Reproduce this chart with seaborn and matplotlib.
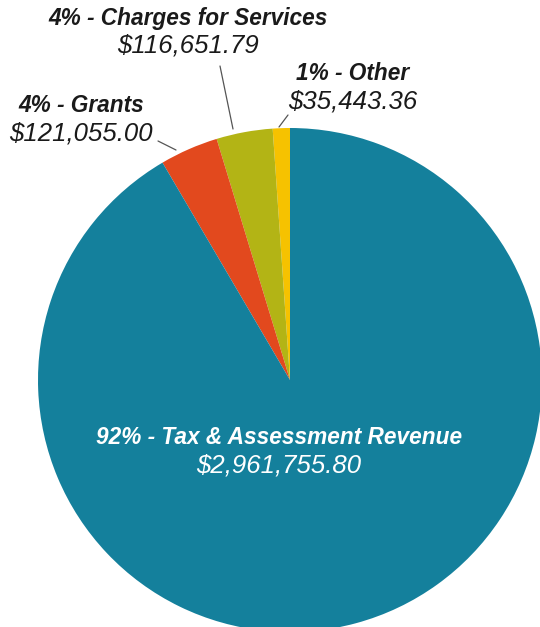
import matplotlib
matplotlib.use("Agg")
import matplotlib.pyplot as plt
import seaborn as sns

sns.set_theme(style="white")
plt.rcParams["font.family"] = ["Liberation Sans", "DejaVu Sans"]

# slices, counter-clockwise from 12 o'clock
categories = ["Other", "Charges for Services", "Grants", "Tax & Assessment Revenue"]
amounts = [35443.36, 116651.79, 121055.00, 2961755.80]
pct_labels = ["1%", "4%", "4%", "92%"]
colors = ["#F6C200", "#B3B415", "#E2491E", "#14809C"]

W, H = 540, 627
fig = plt.figure(figsize=(W / 100, H / 100), dpi=100)
ax = fig.add_axes([0, 0, 1, 1])

cx, cy, r = 290, H - 380, 252
ax.pie(amounts, colors=colors, startangle=90, counterclock=True,
       center=(cx, cy), radius=r, frame=True,
       wedgeprops=dict(linewidth=0))
ax.set_xlim(0, W)
ax.set_ylim(0, H)
ax.set_aspect("equal")
ax.axis("off")


def money(v):
    return f"${v:,.2f}"


# label positions in pixel coords (x, y of first line)
label_pos = {
    "Other": (353, 73),
    "Charges for Services": (188, 18),
    "Grants": (81, 105),
    "Tax & Assessment Revenue": (279, 438),
}
for cat, amt, pct in zip(categories, amounts, pct_labels):
    x, y = label_pos[cat]
    col = "white" if cat.startswith("Tax") else "#1a1a1a"
    ax.text(x, H - y, f"{pct} - {cat}", ha="center", va="center", fontsize=16.3,
            fontweight="bold", fontstyle="italic", color=col)
    ax.text(x, H - (y + 28), money(amt), ha="center", va="center", fontsize=18.5,
            fontstyle="italic", color=col)

# leader lines
leaders = [((220, 66), (233, 129)), ((288, 115), (279, 127)), ((158, 141), (176, 150))]
for (x0, y0), (x1, y1) in leaders:
    ax.plot([x0, x1], [H - y0, H - y1], color="#555555", linewidth=0.9)

fig.savefig("out.png", dpi=100, facecolor="white")
